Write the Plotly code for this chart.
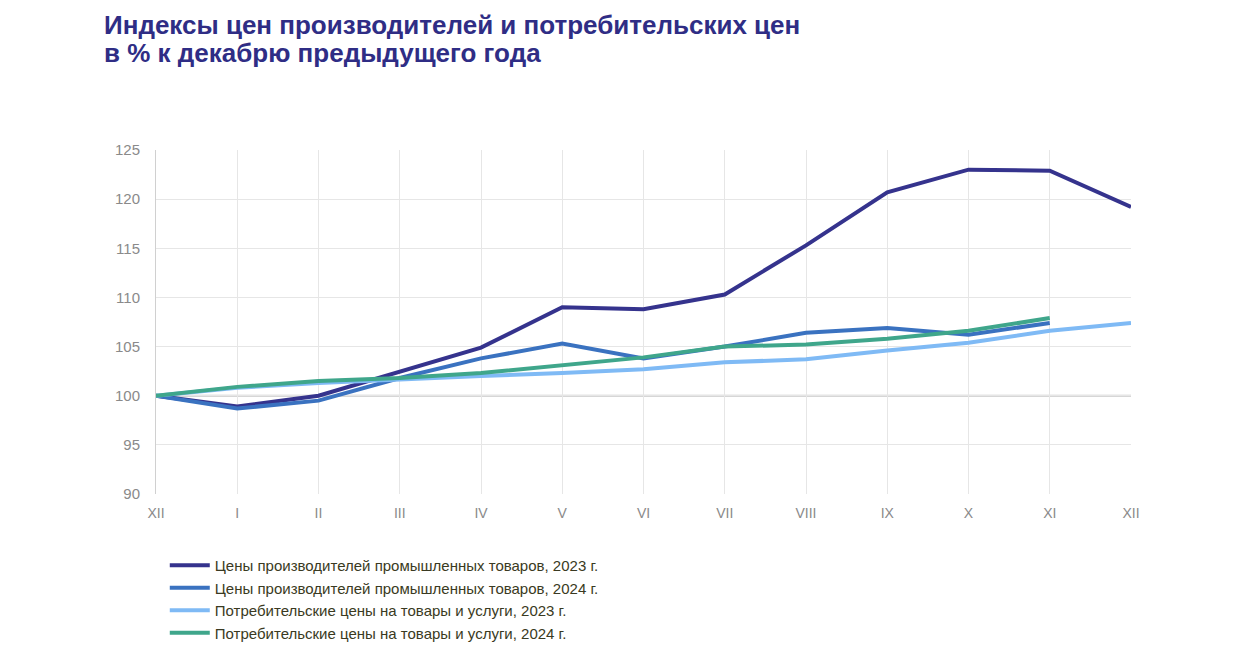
import plotly.graph_objects as go

months = ["XII", "I", "II", "III", "IV", "V", "VI", "VII", "VIII", "IX", "X", "XI", "XII"]

ppi_2023 = [100, 98.9, 100.0, 102.4, 104.9, 109.0, 108.8, 110.3, 115.3, 120.7, 123.0, 122.9, 119.2]
ppi_2024 = [100, 98.7, 99.5, 101.8, 103.8, 105.3, 103.8, 105.0, 106.4, 106.9, 106.2, 107.4]
cpi_2023 = [100, 100.8, 101.3, 101.7, 102.0, 102.3, 102.7, 103.4, 103.7, 104.6, 105.4, 106.6, 107.4]
cpi_2024 = [100, 100.9, 101.5, 101.8, 102.3, 103.1, 103.9, 105.0, 105.2, 105.8, 106.6, 107.9]

names = [
    "Цены производителей промышленных товаров, 2023 г.",
    "Цены производителей промышленных товаров, 2024 г.",
    "Потребительские цены на товары и услуги, 2023 г.",
    "Потребительские цены на товары и услуги, 2024 г.",
]
colors = ["#35338d", "#3a72c0", "#7fbaf5", "#3fa68b"]
series = [ppi_2023, ppi_2024, cpi_2023, cpi_2024]

title_lines = ["Индексы цен производителей и потребительских цен",
               "в % к декабрю предыдущего года"]

x_idx = list(range(len(months)))

fig = go.Figure()
for name, col, vals in zip(names, colors, series):
    fig.add_trace(go.Scatter(
        x=x_idx[:len(vals)], y=vals, mode="lines", name=name,
        line=dict(color=col, width=4),
    ))

fig.add_hline(y=100, line=dict(color="#c8c8c8", width=2), layer="below")

for i, line in enumerate(title_lines):
    fig.add_annotation(
        text=line,
        xref="paper", yref="paper",
        x=-(148 - 94) / (1248 - 148 - 125),
        y=1 + (142 - 17 - 28 * i) / (486 - 142),
        xanchor="left", yanchor="middle", align="left", showarrow=False,
        font=dict(size=26, color="#2f2d85", family="Liberation Sans, Arial, sans-serif", weight="bold"),
    )

fig.update_layout(
    width=1248, height=666,
    paper_bgcolor="white", plot_bgcolor="white",
    margin=dict(l=148, r=125, t=142, b=180),
    font=dict(family="Liberation Sans, Arial, sans-serif"),
    xaxis=dict(
        range=[0, 12], tickmode="array", tickvals=x_idx, ticktext=months,
        showgrid=True, gridcolor="#e6e6e6", gridwidth=1,
        zeroline=False, showline=False,
        tickfont=dict(size=14, color="#8a8a8a"), ticks="", ticklabelstandoff=9,
    ),
    yaxis=dict(
        range=[90, 125], tickvals=[90, 95, 100, 105, 110, 115, 120, 125],
        showgrid=True, gridcolor="#e6e6e6", gridwidth=1,
        zeroline=False, showline=True, linecolor="#d0d0d0", linewidth=1,
        tickfont=dict(size=15, color="#8a8a8a"), ticks="", ticklabelstandoff=12,
    ),
    legend=dict(
        x=0.009, y=-0.16, xanchor="left", yanchor="top",
        font=dict(size=15, color="#3a3a22"),
        tracegroupgap=0, itemwidth=40,
        bgcolor="rgba(0,0,0,0)",
    ),
    showlegend=True,
)

fig.write_html("out.html")
